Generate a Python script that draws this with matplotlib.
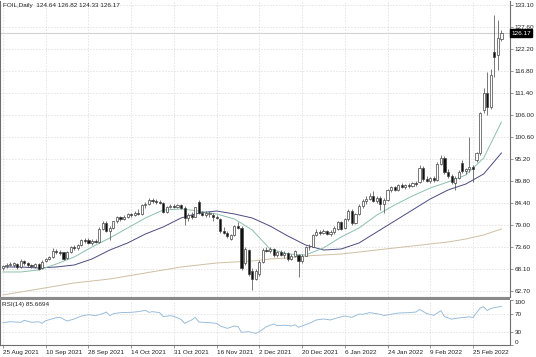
import matplotlib
matplotlib.use("Agg")
import matplotlib.pyplot as plt
from matplotlib.patches import Rectangle

plt.rcParams['font.family'] = ['Liberation Sans', 'DejaVu Sans']

# ---------------- data ----------------
opens = [68.3, 68.9, 69.2, 69.1, 69.4, 68.6, 70.0, 69.6, 69.0, 68.6, 69.4, 68.4,
         70.0, 70.6, 71.0, 72.6, 72.4, 72.2, 70.8, 72.3, 73.4, 73.2, 74.0, 75.2,
         75.3, 74.5, 75.0, 74.8, 78.0, 79.5, 77.5, 78.3, 79.8, 80.8, 80.4, 81.0,
         81.6, 81.5, 82.0, 81.7, 83.8, 84.0, 85.0, 84.8, 84.5, 84.4, 82.2, 83.3,
         83.6, 83.4, 83.8, 83.2, 80.6, 81.5, 81.0, 84.7, 81.9, 81.5, 81.6, 81.5,
         81.0, 80.4, 77.4, 77.0, 75.6, 76.4, 78.7, 78.3, 69.5, 72.8, 67.5, 65.6,
         66.8, 69.9, 72.8, 72.6, 73.0, 71.5, 72.2, 71.6, 72.0, 70.5, 71.4, 71.6,
         70.0, 71.4, 73.5, 73.6, 76.4, 77.3, 77.0, 77.4, 76.8, 77.2, 78.0, 79.6,
         78.2, 80.3, 82.4, 79.5, 81.7, 83.6, 84.9, 85.4, 86.0, 84.9, 85.6, 84.2,
         85.0, 87.5, 88.2, 87.6, 88.7, 88.4, 88.9, 88.5, 89.2, 89.6, 93.0, 90.2,
         89.8, 90.4, 90.0, 94.0, 95.4, 91.9, 91.0, 89.3, 90.6, 94.2, 92.2, 92.6,
         93.2, 94.9, 96.6, 107.3, 111.4, 108.0, 121.5, 120.8, 124.64]
highs = [69.2, 69.6, 69.8, 69.9, 69.7, 70.6, 70.4, 69.9, 69.4, 69.7, 69.6, 70.3,
         70.9, 71.3, 73.2, 73.0, 72.9, 72.4, 72.6, 73.8, 73.9, 74.3, 75.6, 75.7,
         75.8, 75.4, 75.5, 78.4, 79.9, 79.8, 78.6, 80.0, 81.1, 81.2, 81.3, 81.9,
         82.0, 82.3, 82.9, 84.2, 84.6, 85.6, 85.6, 85.3, 85.0, 84.6, 83.6, 84.0,
         84.1, 84.0, 84.2, 83.5, 81.8, 82.2, 83.4, 85.1, 82.5, 82.4, 82.3, 81.8,
         81.4, 80.6, 78.4, 77.5, 76.8, 79.0, 79.6, 78.6, 73.5, 73.0, 68.3, 68.0,
         70.2, 73.2, 73.5, 73.6, 73.3, 72.6, 72.7, 72.5, 72.3, 71.8, 72.9, 71.9,
         71.8, 73.8, 74.2, 76.8, 77.9, 77.6, 77.9, 77.8, 77.6, 78.6, 80.0, 80.0,
         80.6, 82.8, 82.8, 82.0, 84.0, 85.3, 86.0, 86.8, 87.2, 86.0, 86.0, 85.6,
         87.9, 88.6, 88.5, 89.0, 89.2, 89.1, 89.3, 89.5, 89.8, 93.6, 93.5, 91.0,
         90.8, 90.9, 94.5, 96.2, 95.8, 92.6, 91.4, 90.9, 92.4, 94.9, 93.0, 100.7,
         93.8, 97.0, 106.8, 112.7, 116.6, 117.3, 130.6, 129.4, 126.82]
lows = [67.9, 68.4, 68.8, 68.6, 68.0, 68.4, 69.2, 68.7, 68.3, 68.3, 67.8, 68.1,
        69.8, 70.3, 70.9, 71.8, 71.6, 70.2, 70.6, 72.0, 72.9, 72.8, 73.8, 74.6,
        74.3, 74.1, 74.4, 74.6, 77.6, 77.2, 75.3, 78.0, 79.5, 80.0, 80.1, 80.6,
        81.0, 81.2, 81.5, 81.5, 83.2, 83.8, 84.3, 84.0, 84.0, 81.8, 82.0, 83.0,
        83.0, 83.1, 82.9, 79.0, 79.9, 80.5, 80.8, 81.6, 81.2, 81.0, 81.0, 79.8,
        80.4, 77.0, 76.6, 75.8, 75.2, 76.2, 77.9, 67.8, 69.0, 66.3, 62.9, 65.3,
        66.4, 69.5, 72.2, 72.0, 71.0, 71.0, 71.3, 70.9, 70.0, 70.2, 71.0, 66.2,
        69.6, 71.2, 72.9, 73.4, 76.2, 76.5, 76.6, 76.4, 76.3, 76.8, 77.7, 77.6,
        78.0, 80.0, 79.0, 79.2, 81.4, 83.2, 84.2, 85.0, 84.5, 84.3, 82.6, 82.0,
        84.8, 87.0, 87.2, 87.3, 88.0, 87.9, 88.1, 88.2, 88.6, 89.3, 89.8, 89.4,
        89.3, 89.6, 89.8, 93.6, 91.5, 90.6, 89.0, 87.6, 90.3, 91.8, 91.6, 92.0,
        89.6, 94.5, 96.2, 106.5, 106.0, 107.6, 115.4, 117.1, 124.33]
closes = [68.9, 69.2, 69.3, 69.6, 68.5, 70.0, 69.6, 69.0, 68.8, 69.4, 68.0, 69.9,
          70.6, 71.0, 72.6, 72.2, 72.0, 70.6, 72.3, 73.5, 73.2, 74.0, 75.2, 75.0,
          74.5, 75.0, 74.8, 78.0, 79.5, 77.5, 78.2, 79.8, 80.8, 80.4, 81.0, 81.6,
          81.5, 82.0, 81.7, 83.8, 84.0, 85.0, 84.8, 84.5, 84.4, 82.2, 83.3, 83.6,
          83.4, 83.8, 83.2, 80.6, 81.5, 81.0, 83.3, 81.9, 81.5, 82.0, 81.9, 81.0,
          80.7, 77.4, 77.0, 76.2, 76.4, 78.7, 78.3, 68.3, 73.0, 66.8, 65.6, 67.5,
          69.9, 72.8, 72.6, 73.0, 71.5, 72.2, 71.6, 72.0, 70.5, 71.4, 72.5, 70.0,
          71.4, 73.5, 73.4, 76.4, 77.3, 77.0, 77.4, 76.8, 77.2, 78.2, 79.6, 78.0,
          80.3, 82.4, 79.5, 81.7, 83.6, 84.9, 85.4, 86.0, 84.9, 85.6, 84.2, 85.0,
          87.5, 88.2, 87.6, 88.7, 88.4, 88.9, 88.5, 89.2, 89.0, 93.0, 90.2, 89.8,
          90.4, 90.0, 94.0, 95.4, 91.9, 91.0, 89.6, 90.6, 92.0, 92.2, 92.6, 93.2,
          92.8, 96.6, 106.4, 111.4, 108.0, 115.9, 120.3, 124.9, 126.17]

# moving-average lines, read every 5 bars
ma_idx = list(range(0, 141, 5))
ma_fast = [67.37, 67.37, 67.86, 69.34, 71.06, 73.52, 75.74, 78.20, 80.66, 82.63,
           82.88, 82.38, 81.65, 80.42, 77.71, 73.03, 71.80, 71.55, 73.28, 75.99,
           78.20, 81.40, 83.86, 86.08, 88.05, 89.53, 91.25, 95.43, 104.30]
ma_mid = [68.60, 68.60, 68.35, 68.60, 69.09, 70.57, 72.78, 74.51, 76.72, 78.45,
          80.66, 81.89, 82.38, 81.65, 80.66, 78.69, 76.23, 74.01, 72.78, 73.03,
          74.51, 77.22, 79.92, 82.63, 85.34, 87.56, 89.03, 91.50, 96.67]
ma_slow = [61.71, 62.45, 63.18, 63.92, 64.66, 65.15, 65.65, 66.38, 67.12, 67.86,
           68.60, 69.09, 69.58, 69.83, 70.08, 70.57, 70.82, 71.31, 71.55, 71.80,
           72.29, 72.78, 73.28, 73.77, 74.26, 74.75, 75.49, 76.48, 77.96]

# RSI(14) line, read at these bars
rsi_idx = [0, 2, 5, 6, 8, 10, 11, 12, 15, 16, 18, 20, 22, 24, 26, 28, 29, 30, 31,
           33, 36, 38, 40, 41, 42, 44, 45, 47, 48, 50, 51, 53, 54, 55, 58, 60, 61,
           63, 65, 66, 67, 69, 71, 72, 74, 76, 77, 79, 81, 82, 83, 86, 88, 90, 92,
           94, 96, 98, 100, 101, 103, 106, 107, 111, 114, 116, 117, 119, 121, 123,
           124, 126, 128, 131, 132, 134, 135, 136, 137, 138, 139, 140]
rsi_val = [49.6, 51.8, 50.4, 54.8, 50.4, 51.8, 48.1, 54.1, 60.7, 61.5, 53.3, 57.8,
           64.4, 67.4, 65.2, 69.6, 73.3, 65.2, 69.6, 71.9, 72.6, 74.1, 77.0, 72.6,
           74.1, 71.9, 63.0, 65.2, 63.7, 57.0, 48.1, 55.6, 61.5, 51.1, 49.6, 48.1,
           42.2, 37.0, 42.2, 40.7, 28.1, 29.6, 25.9, 29.6, 40.7, 46.7, 43.0, 44.0,
           42.2, 45.0, 39.3, 48.1, 55.6, 57.8, 55.6, 60.7, 64.4, 61.5, 68.9, 68.0,
           71.9, 68.1, 65.5, 71.0, 71.9, 73.3, 79.0, 70.0, 66.0, 76.3, 63.0, 57.5,
           60.0, 62.5, 61.0, 82.0, 85.0, 76.5, 81.0, 83.0, 84.5, 85.67]

price_ticks = [133.10, 127.60, 122.20, 116.80, 111.40, 106.00, 100.60, 95.20,
               89.80, 84.40, 79.00, 73.60, 68.10, 62.70]
date_pos = [0, 12, 24, 36, 48, 60, 72, 84, 96, 108, 120, 132]
date_labels = ['25 Aug 2021', '10 Sep 2021', '28 Sep 2021', '14 Oct 2021',
               '31 Oct 2021', '16 Nov 2021', '2 Dec 2021', '20 Dec 2021',
               '6 Jan 2022', '24 Jan 2022', '9 Feb 2022', '25 Feb 2022']
rsi_ticks = [0, 30, 70, 100]
last_price = 126.17

# ---------------- figure ----------------
W, H = 536, 357
fig = plt.figure(figsize=(W / 100, H / 100), dpi=100)
fig.patch.set_facecolor('white')

ax = fig.add_axes([0.0, 1 - 297 / H, 510 / W, 296 / H])
axr = fig.add_axes([0.0, 1 - 345 / H, 510 / W, 45 / H], sharex=ax)

FS = 4.6
grid_kw = dict(color='#c6c6c6', linestyle=(0, (1, 2.6)), linewidth=0.6)
axis_col = '#6e6e6e'

for a in (ax, axr):
    a.set_facecolor('white')
    for s in a.spines.values():
        s.set_color(axis_col)
        s.set_linewidth(0.8)
    a.spines['top'].set_visible(False)
    a.yaxis.tick_right()
    a.tick_params(axis='y', length=2, width=0.5, color=axis_col, labelsize=FS,
                  pad=1.5, labelcolor='#222')
    a.set_axisbelow(True)

# candles
n = len(closes)
xs = list(range(n))
ax.vlines(xs, lows, highs, color='#555555', linewidth=0.55, zorder=2)
for i in xs:
    o, c = opens[i], closes[i]
    bull = c >= o
    ax.bar(i, max(abs(c - o), 0.12), bottom=min(o, c), width=0.6,
           color='white' if bull else '#111111', edgecolor='#444444',
           linewidth=0.5, zorder=3)

ax.plot(ma_idx, ma_slow, color='#cfbfa2', linewidth=0.7, zorder=1.5)
ax.plot(ma_idx, ma_mid, color='#4b4b82', linewidth=0.7, zorder=1.6)
ax.plot(ma_idx, ma_fast, color='#8cc0ac', linewidth=0.7, zorder=1.7)

ax.axhline(last_price, color='#d2d2d2', linewidth=0.8, zorder=1)

ax.set_xlim(-0.84, 142.4)
ax.set_ylim(61.21, 134.08)
ax.set_yticks(price_ticks)
ax.set_yticklabels([f'{v:.2f}' for v in price_ticks])
ax.set_xticks(date_pos)
ax.tick_params(axis='x', bottom=False, labelbottom=False)
ax.grid(True, **grid_kw)

ax.text(1.003, last_price, f'{last_price:.2f}', transform=ax.get_yaxis_transform(),
        ha='left', va='center', fontsize=FS, color='white', zorder=10,
        bbox=dict(facecolor='black', edgecolor='black', pad=0.9), clip_on=False)

ax.text(0.006, 0.993, 'FOIL,Daily  124.64 126.82 124.33 126.17',
        transform=ax.transAxes, ha='left', va='top', fontsize=FS, color='#222')

# RSI panel
axr.plot(rsi_idx, rsi_val, color='#93b9da', linewidth=0.65)
axr.set_ylim(0, 100)
axr.set_yticks(rsi_ticks)
axr.set_yticklabels([str(v) for v in rsi_ticks])
for lab, v in zip(axr.get_yticklabels(), rsi_ticks):
    if v == 100:
        lab.set_va('top')
    elif v == 0:
        lab.set_va('bottom')
axr.grid(True, axis='x', **grid_kw)
for lvl in (30, 70):
    axr.axhline(lvl, **grid_kw)
axr.set_xticks(date_pos)
axr.set_xticklabels(date_labels)
axr.tick_params(axis='x', length=2, width=0.5, color=axis_col, labelsize=FS,
                pad=1.5, labelcolor='#222')
for lab in axr.get_xticklabels():
    lab.set_ha('left')
axr.text(0.004, 0.96, 'RSI(14) 85.6694', transform=axr.transAxes, ha='left',
         va='top', fontsize=FS, color='#222')

# separator bar between panels
fig.patches.append(Rectangle((0, 1 - 300 / H), 510 / W, 3 / H,
                             transform=fig.transFigure, facecolor='#8a8a8a',
                             edgecolor='none', zorder=5))

fig.savefig('out.png', dpi=100, facecolor='white')
